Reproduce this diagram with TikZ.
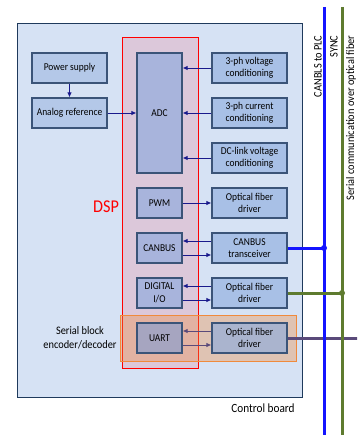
\documentclass[tikz,border=0pt]{standalone}
\usepackage{fontspec}
\setmainfont{Carlito}[FakeStretch=0.9]
\usetikzlibrary{arrows.meta}
\definecolor{boardfill}{HTML}{D6E2F4}
\definecolor{boardline}{HTML}{1F3A5C}
\definecolor{boxfill}{HTML}{B4C8E8}
\definecolor{rboxfill}{HTML}{A8C0E6}
\definecolor{boxline}{HTML}{3B5478}
\definecolor{adcfill}{HTML}{A8B4DC}
\definecolor{dspfill}{HTML}{DCC8DA}
\definecolor{arrowcol}{HTML}{1A1A8C}
\definecolor{serialcol}{HTML}{5A4A7A}
\definecolor{synccol}{HTML}{5E7B2F}
\definecolor{canblue}{HTML}{1414FF}
\definecolor{serorange}{HTML}{F08A3C}
\definecolor{uartfill}{HTML}{A6A5C0}
\definecolor{fibfill}{HTML}{AAB4CE}
\begin{document}
\begin{tikzpicture}[x=1pt,y=-1pt,
  blk/.style={draw=boxline, line width=1.1pt, fill=rboxfill, minimum width=75pt,
    minimum height=30pt, align=center, inner sep=1pt,
    font=\fontsize{10.5}{12.5}\selectfont},
  dspblk/.style={blk, fill=adcfill, minimum width=45pt},
  sig/.style={draw=arrowcol, line width=0.9pt, -{Latex[length=5pt,width=4.5pt]}},
  lbl/.style={font=\fontsize{11.5}{13.5}\selectfont, align=center}]
\clip (0,0) rectangle (357,435);
% Control board and DSP areas
\draw[boardline, fill=boardfill, line width=0.9pt] (17,23) rectangle (302,397);
\draw[red, fill=dspfill, line width=1pt] (122,38) rectangle (198,368);
\draw[serorange, fill=serorange, fill opacity=0.35, line width=1pt] (120,315) rectangle (296,361);
\node[red, font=\fontsize{18}{20}\selectfont] (dsp) at (106,207) {DSP};
\node[lbl] (serblk) at (80,337.5) {Serial block\\encoder/decoder};
\node[font=\fontsize{12.5}{14}\selectfont] (board) at (263,408) {Control board};
% Analog side
\node[blk, fill=boxfill] (psu) at (69.5,68) {Power supply};
\node[blk, fill=boxfill] (aref) at (69.5,113) {Analog reference};
\node[blk, fill=adcfill, minimum width=45pt, minimum height=120pt] (adc) at (159.5,113) {ADC};
\node[blk] (volt) at (249.5,68) {3-ph voltage\\conditioning};
\node[blk] (curr) at (249.5,113) {3-ph current\\conditioning};
\node[blk] (dclink) at (249.5,158) {DC-link voltage\\conditioning};
% Digital side
\node[dspblk] (pwm) at (159.5,203) {PWM};
\node[dspblk] (canbus) at (159.5,248) {CANBUS};
\node[dspblk] (dio) at (159.5,293) {DIGITAL\\I/O};
\node[dspblk, fill=uartfill] (uart) at (159.5,338) {UART};
\node[blk] (fib1) at (249.5,203) {Optical fiber\\driver};
\node[blk] (cantr) at (249.5,248) {CANBUS\\transceiver};
\node[blk] (fib2) at (249.5,293) {Optical fiber\\driver};
\node[blk, fill=fibfill] (fib3) at (249.5,338) {Optical fiber\\driver};
% Signal arrows
\draw[sig] (psu) -- (aref);
\draw[sig] (aref.east) -- (adc.west |- aref.east);
\foreach \n in {volt,curr,dclink}
  \draw[sig] (\n.west) -- (adc.east |- \n.west);
\draw[sig] (pwm.east) -- (fib1.west |- pwm.east);
\draw[sig] ([yshift=7pt]cantr.west) -- ([yshift=7pt]canbus.east);
\draw[sig] ([yshift=-7pt]canbus.east) -- ([yshift=-7pt]cantr.west);
\draw[sig] ([yshift=7pt]fib2.west) -- ([yshift=7pt]dio.east);
\draw[sig] ([yshift=-7pt]dio.east) -- ([yshift=-7pt]fib2.west);
\draw[sig, draw=serialcol] ([yshift=7pt]fib3.west) -- ([yshift=7pt]uart.east);
\draw[sig, draw=serialcol] ([yshift=-7pt]uart.east) -- ([yshift=-7pt]fib3.west);
% Field buses
\coordinate (canbusTop) at (324,7);
\coordinate (syncTop) at (342,7);
\coordinate (serEnd) at (360,338);
\draw[serialcol, line width=3pt] (fib3.east) -- (serEnd);
\draw[canblue, line width=3pt] (canbusTop) -- (324,440);
\draw[synccol, line width=3pt] (syncTop) -- (342,440);
\draw[canblue, line width=3pt] (cantr.east) -- (cantr.east -| canbusTop) coordinate (canJoin);
\fill[canblue] (canJoin) circle (3pt);
\draw[synccol, line width=3pt] (fib2.east) -- (fib2.east -| syncTop) coordinate (syncJoin);
\fill[synccol] (syncJoin) circle (3pt);
\node[lbl, rotate=90, anchor=east] (canlbl) at (318,32) {CANBLS to PLC};
\node[lbl, rotate=90, anchor=east] (synclbl) at (334,32) {SYNC};
\node[lbl, rotate=90, anchor=east] (serlbl) at (351,32) {Serial communication over optical fiber};
\end{tikzpicture}
\end{document}
